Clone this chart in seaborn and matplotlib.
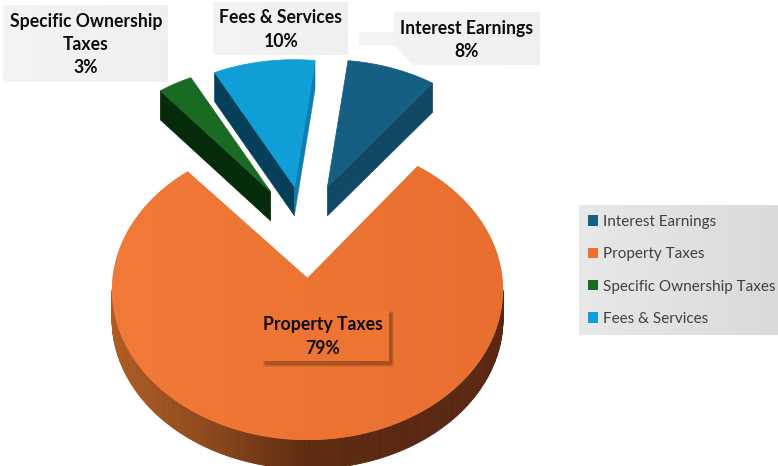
import numpy as np
import matplotlib
matplotlib.use("Agg")
import matplotlib.pyplot as plt
import seaborn as sns
from matplotlib.colors import LinearSegmentedColormap
from matplotlib.patches import Patch, Polygon, Rectangle

categories = ["Interest Earnings", "Property Taxes", "Specific Ownership Taxes", "Fees & Services"]
shares = [8, 79, 3, 10]
share_labels = ["8%", "79%", "3%", "10%"]
colors = ["#156082", "#E97132", "#196B24", "#0F9ED5"]
side_colors = ["#114865", "#5A2812", "#052B0A", "#063F5A"]

START = 5.5
CX, CY = 307, 232
BIG_CENTER = (307.5, 290)
BIG_APEX_Y = 278
BIG_R, BIG_RY = 195.5, 150
SMALL_R, SMALL_RY = 182, 127
DEPTH = 29
LABEL_FONT = ["Lato", "DejaVu Sans"]

# per wedge layout: explosion distance and small angle nudges for the perspective
PUSH = [60, 58, 62, 58]
NUDGE = [(1, 1), (0, 3.5), (4, 4.5), (4.5, 1)]


def arc(center, r, ry, a0, a1):
    ang = np.radians(np.linspace(a0, a1, 240))
    return center[0] + r * np.sin(ang), center[1] - ry * np.cos(ang)


def gradient(ax, box, c0, c1, clip=None):
    cmap = LinearSegmentedColormap.from_list("g", [c0, c1])
    grid = np.linspace(0, 1, 128).reshape(1, -1)
    im = ax.imshow(grid, extent=box, cmap=cmap, aspect="auto", zorder=2, interpolation="bilinear")
    if clip is not None:
        im.set_clip_path(clip)
    return im


sns.set_theme(style="white")
palette = sns.color_palette(colors)

fig = plt.figure(figsize=(7.78, 4.66), dpi=100)
ax = fig.add_axes([0, 0, 1, 1])
ax.set_axis_off()

# label boxes sit behind the wedges
for x0, y0, w, h in [(3, 5, 165, 77), (213, 2, 135, 53), (359, 12, 181, 53)]:
    gradient(ax, (x0, x0 + w, y0 + h, y0), "#F4F4F4", "#EFEFEF")
# white glow of the interest wedge eats into its box
for pts in [[(355, 8), (394, 8), (394, 32), (355, 32)],
            [(355, 45), (394, 45), (415, 67), (355, 67)]]:
    ax.add_patch(Polygon(pts, facecolor="white", edgecolor="none", zorder=2.5))

# angles run clockwise from the top
edges = START + np.cumsum([0] + shares) * 3.6

for i, cat in enumerate(categories):
    a0, a1 = edges[i] + NUDGE[i][0], edges[i + 1] + NUDGE[i][1]
    mid = np.radians((edges[i] + edges[i + 1]) / 2)

    if shares[i] == max(shares):
        x, y = arc(BIG_CENTER, BIG_R, BIG_RY, a0, a1)
        # outer wall, front half only
        px, py = arc(BIG_CENTER, BIG_R, BIG_RY, 90, 270)
        side = LinearSegmentedColormap.from_list(
            "side", ["#B05C24", "#8C481C", "#5E2C10", "#5A2812", "#5A2812"]
        )
        for k in range(len(px) - 1):
            t = (px[k] - px.min()) / (px.max() - px.min())
            ax.fill(
                [px[k], px[k + 1], px[k + 1], px[k]],
                [py[k], py[k + 1], py[k + 1] + DEPTH, py[k] + DEPTH],
                color=side(t),
                lw=0.6,
                zorder=3,
            )
        top = Polygon(np.c_[np.r_[BIG_CENTER[0], x], np.r_[BIG_APEX_Y, y]],
                      facecolor=palette[i], edgecolor="none", zorder=4)
        ax.add_patch(top)
        im = gradient(ax, (112, 503, 466, 100), "#F27A38", "#E86F2F", clip=top)
        im.set_zorder(4.1)
    else:
        apex = (CX + PUSH[i] * np.sin(mid), CY - PUSH[i] * 0.8 * np.cos(mid))
        x, y = arc(apex, SMALL_R, SMALL_RY, a0, a1)
        # which cut face shows depends on the side of the pie
        fx, fy = (x[0], y[0]) if a0 > 300 else (x[-1], y[-1])
        ax.fill(
            [apex[0], fx, fx, apex[0]],
            [apex[1], fy, fy + DEPTH, apex[1] + DEPTH],
            color=side_colors[i],
            lw=0.5,
            zorder=5,
        )
        if cat == "Fees & Services":
            ax.fill(
                [apex[0], x[-1], x[-1], apex[0]],
                [apex[1], y[-1], y[-1] + DEPTH, apex[1] + DEPTH],
                color="#0E7FB0",
                lw=0.3,
                zorder=5,
            )
        ax.fill(np.r_[apex[0], x], np.r_[apex[1], y], color=palette[i], lw=0.5, zorder=6)

# data labels
label_kw = dict(family=LABEL_FONT, fontweight="bold", color="#0D0D0D", ha="center", va="center",
                fontsize=12.7, linespacing=1.45, zorder=9)
ax.text(86, 44.5, "Specific Ownership\nTaxes\n" + share_labels[2], **label_kw)
ax.text(281, 29.5, categories[3] + "\n" + share_labels[3], **label_kw)
ax.text(467, 40, categories[0] + "\n" + share_labels[0], **label_kw)

for grow, alpha in [(2.5, 0.10), (1.5, 0.14), (0.5, 0.22)]:
    ax.add_patch(Rectangle((263 - grow + 3, 310 - grow + 3), 126 + 2 * grow, 51 + 2 * grow,
                           facecolor="#4A2208", alpha=alpha, edgecolor="none", zorder=7))
ax.add_patch(Rectangle((263, 310), 126, 51, facecolor="#ED7432", edgecolor="none", zorder=8))
ax.text(323, 336.5, categories[1] + "\n" + share_labels[1], **label_kw)

# legend
gradient(ax, (579, 778, 335, 205), "#E8E8E8", "#DADADA")
handles = [Patch(facecolor=c, edgecolor="none", label=n) for c, n in zip(palette, categories)]
ax.set_xlim(0, 778)
ax.set_ylim(466, 0)
ax.legend(handles=handles, loc="upper left", bbox_to_anchor=(588, 215), bbox_transform=ax.transData,
          frameon=False, borderpad=0, borderaxespad=0, handlelength=0.68, handleheight=0.68,
          handletextpad=0.3, labelspacing=1.2, labelcolor="#404040",
          prop={"family": LABEL_FONT, "size": 10.95})

fig.savefig("out.png", dpi=100)
